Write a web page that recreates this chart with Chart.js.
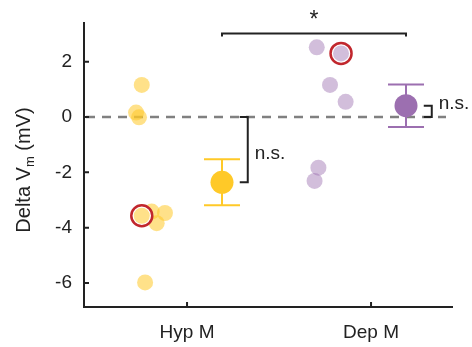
<!DOCTYPE html>
<html>
<head>
<meta charset="utf-8">
<script src="https://cdn.jsdelivr.net/npm/chart.js@4.4.1/dist/chart.umd.min.js"></script>
<style>
  html, body { margin: 0; padding: 0; background: #fff; }
  canvas { display: block; }
</style>
</head>
<body>
<canvas id="chart" width="472" height="347"></canvas>
<script>
/* Categories and tick labels */
var categories = ['Hyp M', 'Dep M'];
var yTicks = [-6, -4, -2, 0, 2];

/* Individual cells (x = jittered category position) */
var hypX = [0.754, 0.723, 0.739, 0.754, 0.808, 0.880, 0.835, 0.772];
var hypY = [1.16, 0.16, -0.01, -3.57, -3.42, -3.47, -3.84, -5.98];
var depX = [1.705, 1.837, 1.777, 1.862, 1.714, 1.693];
var depY = [2.52, 2.30, 1.16, 0.55, -1.83, -2.31];
/* example cells, circled in red */
var hypHighlight = 3;
var depHighlight = 1;

/* Group mean +/- SEM */
var means = [-2.36, 0.41];
var sems = [0.83, 0.77];

/* Significance labels */
var nsLabels = ['n.s.', 'n.s.'];
var nsLabelY = [-1.50, 0.29];
var groupLabel = '*';

var FONT = "'Liberation Sans', Arial, Helvetica, sans-serif";
var INK = '#222222';
var COLOURS = {
  hyp: { solid: '#FFC928', light: 'rgba(255, 201, 40, 0.55)' },
  dep: { solid: '#9C6FB0', light: 'rgba(156, 111, 176, 0.45)' }
};
var MEAN_SHIFT = 0.19;     // means drawn right of the cells
var BRACKET_SHIFT = 0.33;  // n.s. brackets right of the cells

function pts(xs, ys, skip) {
  var out = [];
  for (var i = 0; i < xs.length; i++) {
    if (i !== skip) out.push({ x: xs[i], y: ys[i] });
  }
  return out;
}

var annotations = {
  id: 'annotations',
  beforeDatasetsDraw: function(chart) {
    var ctx = chart.ctx, a = chart.chartArea;
    var x = chart.scales.x, y = chart.scales.y;
    ctx.save();
    /* dashed zero line */
    var y0 = y.getPixelForValue(0);
    ctx.strokeStyle = '#808080';
    ctx.lineWidth = 2.5;
    ctx.setLineDash([9, 7]);
    ctx.beginPath();
    ctx.moveTo(a.left + 2, y0);
    ctx.lineTo(a.right - 6, y0);
    ctx.stroke();
    ctx.setLineDash([]);
    /* error bars */
    var cols = [COLOURS.hyp.solid, COLOURS.dep.solid];
    ctx.lineWidth = 2;
    means.forEach(function(m, i) {
      var px = x.getPixelForValue(i + 1 + MEAN_SHIFT);
      var top = y.getPixelForValue(m + sems[i]);
      var bot = y.getPixelForValue(m - sems[i]);
      ctx.strokeStyle = cols[i];
      ctx.beginPath();
      ctx.moveTo(px, top); ctx.lineTo(px, bot);
      ctx.moveTo(px - 18, top); ctx.lineTo(px + 18, top);
      ctx.moveTo(px - 18, bot); ctx.lineTo(px + 18, bot);
      ctx.stroke();
    });
    ctx.restore();
  },
  afterDraw: function(chart) {
    var ctx = chart.ctx, a = chart.chartArea;
    var x = chart.scales.x, y = chart.scales.y;
    ctx.save();
    ctx.strokeStyle = INK;
    ctx.fillStyle = INK;
    ctx.lineWidth = 2;

    /* inward tick marks */
    ctx.beginPath();
    yTicks.forEach(function(v) {
      var py = y.getPixelForValue(v);
      ctx.moveTo(a.left, py); ctx.lineTo(a.left + 5, py);
    });
    [1, 2].forEach(function(v) {
      var px = x.getPixelForValue(v);
      ctx.moveTo(px, a.bottom); ctx.lineTo(px, a.bottom - 5);
    });
    ctx.stroke();

    /* n.s. brackets: mean vs zero */
    ctx.font = '19px ' + FONT;
    ctx.textBaseline = 'alphabetic';
    ctx.textAlign = 'left';
    means.forEach(function(m, i) {
      var bx = x.getPixelForValue(i + 1 + BRACKET_SHIFT);
      var py0 = y.getPixelForValue(0);
      var pym = y.getPixelForValue(m);
      ctx.beginPath();
      ctx.moveTo(bx - 8, py0); ctx.lineTo(bx, py0);
      ctx.lineTo(bx, pym); ctx.lineTo(bx - 8, pym);
      ctx.stroke();
      ctx.fillText(nsLabels[i], bx + 7, y.getPixelForValue(nsLabelY[i]));
    });

    /* group comparison bracket */
    var x1 = x.getPixelForValue(1 + MEAN_SHIFT);
    var x2 = x.getPixelForValue(2 + MEAN_SHIFT);
    var yb = y.getPixelForValue(3.02);
    ctx.beginPath();
    ctx.moveTo(x1, yb + 3); ctx.lineTo(x1, yb);
    ctx.lineTo(x2, yb); ctx.lineTo(x2, yb + 3);
    ctx.stroke();
    ctx.textAlign = 'center';
    ctx.font = '23px ' + FONT;
    ctx.fillText(groupLabel, (x1 + x2) / 2, yb - 7);

    /* y axis title with subscript */
    var big = '20px ' + FONT, small = '13px ' + FONT;
    var p1 = 'Delta V', p2 = 'm', p3 = ' (mV)';
    ctx.font = big; var w1 = ctx.measureText(p1).width, w3 = ctx.measureText(p3).width;
    ctx.font = small; var w2 = ctx.measureText(p2).width;
    var total = w1 + w2 + w3;
    ctx.translate(24, (a.top + a.bottom) / 2 + 5);
    ctx.rotate(-Math.PI / 2);
    ctx.textAlign = 'left';
    ctx.textBaseline = 'middle';
    var sx = -total / 2;
    ctx.font = big; ctx.fillText(p1, sx, 0);
    ctx.font = small; ctx.fillText(p2, sx + w1, 6);
    ctx.font = big; ctx.fillText(p3, sx + w1 + w2, 0);
    ctx.restore();
  }
};

new Chart(document.getElementById('chart').getContext('2d'), {
  type: 'scatter',
  data: {
    datasets: [
      { data: pts(hypX, hypY, hypHighlight), backgroundColor: COLOURS.hyp.light,
        borderWidth: 0, pointRadius: 8, pointHoverRadius: 8, order: 5 },
      { data: pts(depX, depY, depHighlight), backgroundColor: COLOURS.dep.light,
        borderWidth: 0, pointRadius: 8, pointHoverRadius: 8, order: 5 },
      { data: [{ x: hypX[hypHighlight], y: hypY[hypHighlight] },
               { x: depX[depHighlight], y: depY[depHighlight] }],
        backgroundColor: '#ffffff', borderColor: '#C1272D', borderWidth: 2.5,
        pointRadius: 10.5, pointHoverRadius: 10.5, order: 4 },
      { data: [{ x: hypX[hypHighlight], y: hypY[hypHighlight] },
               { x: depX[depHighlight], y: depY[depHighlight] }],
        backgroundColor: [COLOURS.hyp.light, COLOURS.dep.light],
        borderWidth: 0, pointRadius: 8, pointHoverRadius: 8, order: 3 },
      { data: means.map(function(m, i) { return { x: i + 1 + MEAN_SHIFT, y: m }; }),
        backgroundColor: [COLOURS.hyp.solid, COLOURS.dep.solid],
        borderWidth: 0, pointRadius: 11.5, pointHoverRadius: 11.5, order: 1 }
    ]
  },
  options: {
    responsive: false,
    animation: false,
    events: [],
    layout: { padding: { top: 23, right: 20, left: 0, bottom: 0 } },
    plugins: { legend: { display: false }, tooltip: { enabled: false } },
    scales: {
      x: {
        type: 'linear',
        min: 0.44,
        max: 2.44,
        grid: { display: false },
        border: { display: true, color: INK, width: 2 },
        ticks: {
          color: INK,
          padding: 6,
          font: { family: FONT, size: 19 },
          callback: function(v) { return categories[v - 1]; }
        },
        afterBuildTicks: function(s) { s.ticks = [1, 2].map(function(v) { return { value: v }; }); },
        afterFit: function(s) { s.height = 40; }
      },
      y: {
        min: -6.87,
        max: 3.4,
        grid: { display: false },
        border: { display: true, color: INK, width: 2 },
        ticks: {
          color: INK,
          padding: 4,
          font: { family: FONT, size: 19 }
        },
        afterBuildTicks: function(s) { s.ticks = yTicks.map(function(v) { return { value: v }; }); },
        afterFit: function(s) { s.width = 84; }
      }
    }
  },
  plugins: [annotations]
});
</script>
</body>
</html>
